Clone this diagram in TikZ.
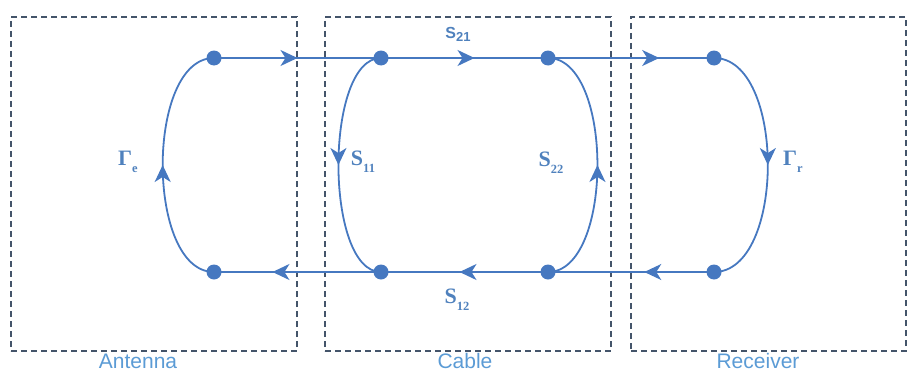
\documentclass[tikz,border=0pt]{standalone}
\usepackage{fontspec}
\setmainfont{Liberation Sans}
\newfontfamily\timesfont{Liberation Serif}
\usetikzlibrary{arrows.meta,positioning,decorations.markings}
\definecolor{flowblue}{RGB}{70,120,192}
\definecolor{boxslate}{RGB}{68,84,106}
\definecolor{labelblue}{RGB}{91,155,213}
\definecolor{sblue}{RGB}{79,129,189}
\newcommand{\sparam}[2]{{\timesfont\bfseries\fontsize{22}{22}\selectfont #1\raisebox{-7pt}{\fontsize{12.5}{12.5}\selectfont #2}}}

\begin{document}
\begin{tikzpicture}[x=1pt, y=-1pt,
    block/.style={draw=boxslate, line width=1.1pt, dash pattern=on 6pt off 4pt, minimum width=286pt, minimum height=334pt, inner sep=0pt},
    port/.style={circle, fill=flowblue, minimum size=15pt, inner sep=0pt},
    flow/.style={draw=flowblue, line width=1.8pt},
    mid arrow/.style={postaction={decorate}, decoration={markings,
        mark=at position #1 with {\arrow{Stealth[length=17pt, width=16pt, inset=5pt]}}}},
    block label/.style={text=labelblue, inner sep=0pt, font=\fontsize{21}{22}\selectfont},
    param/.style={text=sblue, inner sep=0pt}
]
    \useasboundingbox (0,0) rectangle (907,372);

    % dashed blocks
    \node[block] (antenna) at (154,184) {};
    \node[block] (cable) at (468,184) {};
    \node[block, minimum width=275pt] (receiver) at (768.5,184) {};
    \node[block label] (antenna name) at (138,361) {Antenna};
    \node[block label] (cable name) at (465,361) {Cable};
    \node[block label] (receiver name) at (758,361) {Receiver};

    % loops
    \draw[flow, mid arrow=0.5] (214,272) to[out=180, in=180, looseness=0.82] (214,58);
    \draw[flow, mid arrow=0.5] (381,58) to[out=180, in=180, looseness=0.68] (381,272);
    \draw[flow, mid arrow=0.5] (548,272) to[out=0, in=0, looseness=0.79] (548,58);
    \draw[flow, mid arrow=0.5] (714,58) to[out=0, in=0, looseness=0.86] (714,272);

    % ports
    \node[port] (a1) at (214,58) {};
    \node[port] (a2) at (214,272) {};
    \node[port] (c1) at (381,58) {};
    \node[port] (c2) at (548,58) {};
    \node[port] (c3) at (381,272) {};
    \node[port] (c4) at (548,272) {};
    \node[port] (r1) at (714,58) {};
    \node[port] (r2) at (714,272) {};

    % forward and backward waves
    \draw[flow, mid arrow=0.5] (a1.center) -- (c1.center);
    \draw[flow, mid arrow=0.56] (c1.center) -- (c2.center);
    \draw[flow, mid arrow=0.67] (c2.center) -- (r1.center);
    \draw[flow, mid arrow=0.42] (r2.center) -- (c4.center);
    \draw[flow, mid arrow=0.53] (c4.center) -- (c3.center);
    \draw[flow, mid arrow=0.65] (c3.center) -- (a2.center);

    % parameter labels
    \node[param] (s21) at (458,34) {\bfseries\fontsize{16}{16}\selectfont S\raisebox{-3pt}{\fontsize{13}{13}\selectfont 21}};
    \node[param] (s12) at (457,300) {\sparam{S}{12}};
    \node[param] (s11) at (363,162) {\sparam{S}{11}};
    \node[param] (s22) at (551,163) {\sparam{S}{22}};
    \node[param] (gamma e) at (128,162) {\sparam{Γ}{e}};
    \node[param] (gamma r) at (793,162) {\sparam{Γ}{r}};
\end{tikzpicture}
\end{document}
